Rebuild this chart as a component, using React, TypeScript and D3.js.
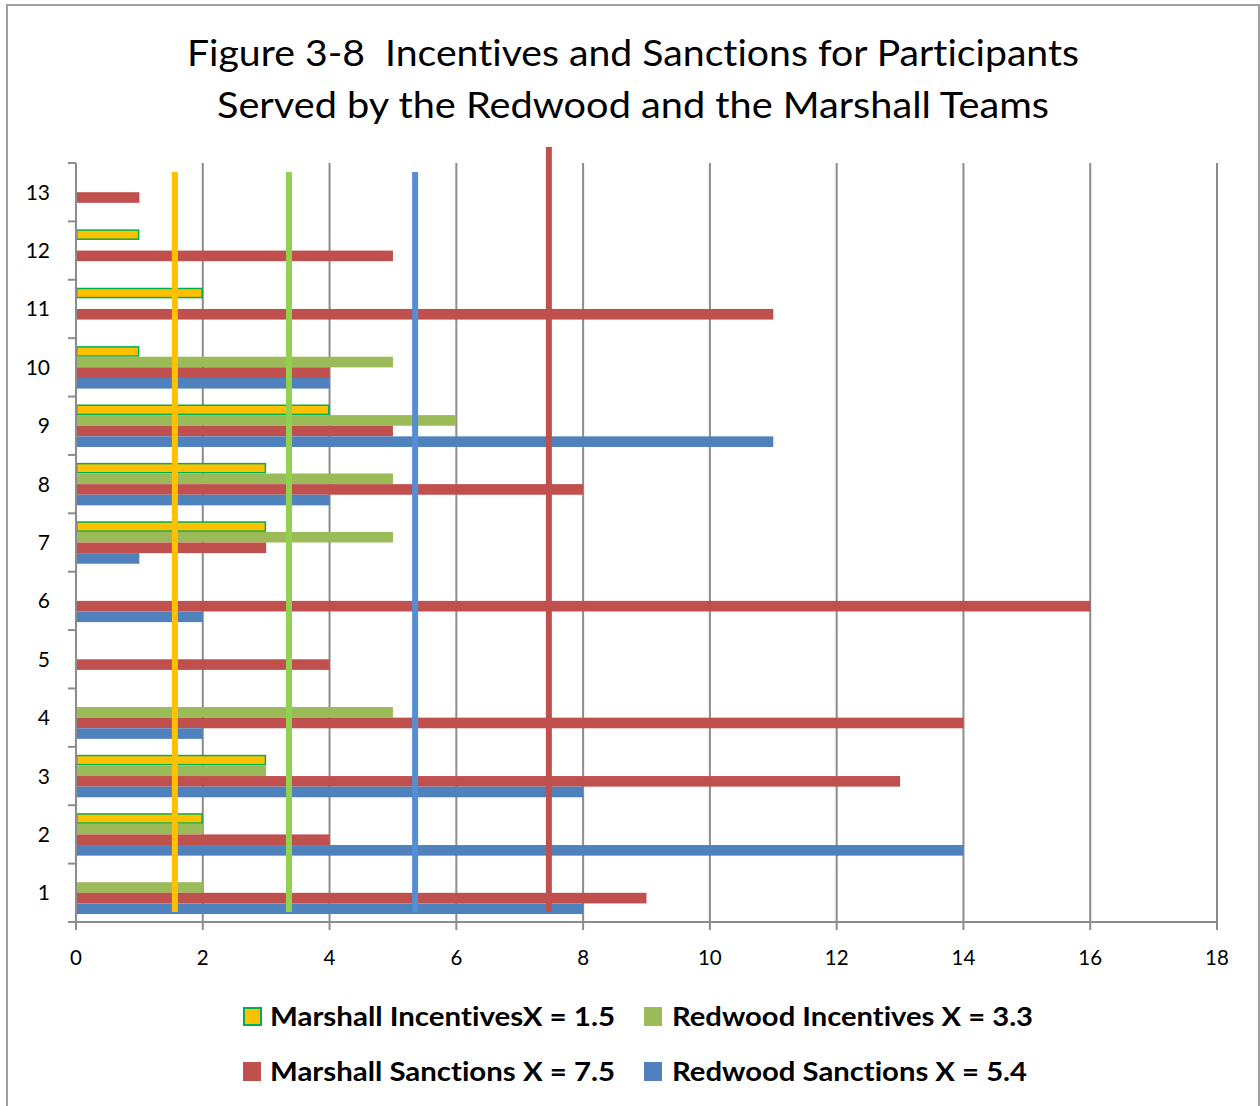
import React from "react";
import * as d3 from "d3";

const categories = ["1", "2", "3", "4", "5", "6", "7", "8", "9", "10", "11", "12", "13"];
const seriesNames = ["Marshall Incentives", "Redwood Incentives", "Marshall Sanctions", "Redwood Sanctions"];
const marshallIncentives = [0, 2, 3, 0, 0, 0, 3, 3, 4, 1, 2, 1, 0];
const redwoodIncentives = [2, 2, 3, 5, 0, 0, 5, 5, 6, 5, 0, 0, 0];
const marshallSanctions = [9, 4, 13, 14, 4, 16, 3, 8, 5, 4, 11, 5, 1];
const redwoodSanctions = [8, 14, 8, 2, 0, 2, 1, 4, 11, 4, 0, 0, 0];
const meanValues = [1.56, 3.36, 7.46, 5.35];
const legendLabels = [
  "Marshall IncentivesX = 1.5",
  "Redwood Incentives X = 3.3",
  "Marshall Sanctions X = 7.5",
  "Redwood Sanctions X = 5.4",
];
const xTicks = [0, 2, 4, 6, 8, 10, 12, 14, 16, 18];
const titleLines = [
  "Figure 3-8  Incentives and Sanctions for Participants",
  "Served by the Redwood and the Marshall Teams",
];

const seriesValues = [marshallIncentives, redwoodIncentives, marshallSanctions, redwoodSanctions];
const fills = ["#FFC000", "#9BBB59", "#C0504D", "#4F81BD"];
const strokes = ["#00B050", "none", "none", "none"];
const meanColors = ["#FFC000", "#92D050", "#C0504D", "#558ED5"];

const FONT = "Lato, 'Open Sans', sans-serif";

export default function App() {
  const left = 76, right = 1217, top = 163, bottom = 922;
  const x = d3.scaleLinear().domain([0, 18]).range([left, right]);
  const y = d3.scaleBand<string>().domain(categories).range([bottom, top]).padding(0);
  const inner = d3
    .scaleBand<string>()
    .domain(seriesNames)
    .range([0, y.bandwidth()])
    .paddingInner(0)
    .paddingOuter(0.75);
  const grid = "#8C8C8C";
  const boundaries = d3.range(categories.length + 1).map((i) => bottom - i * y.step());
  const meanTops = [top + 9, top + 9, top - 16, top + 9];
  const meanBottom = bottom - 10;

  const legendPos = [
    { sx: 243, tx: 270, base: 1026, w: 345 },
    { sx: 644, tx: 672, base: 1026, w: 361 },
    { sx: 243, tx: 270, base: 1081, w: 345 },
    { sx: 644, tx: 672, base: 1081, w: 355 },
  ];
  const legendSeries = [0, 1, 2, 3];

  return (
    <svg
      width={1260}
      height={1106}
      style={{ position: "absolute", left: 0, top: 0, background: "#fff", fontVariantLigatures: "none" }}
      fontFamily={FONT}
    >
      <rect x={7} y={5} width={1252} height={1110} fill="#fff" stroke="#A0A0A0" strokeWidth={2} />
      {/* title */}
      <text x={633} y={66} textAnchor="middle" fontSize={37.5} fill="#000" textLength={892} lengthAdjust="spacingAndGlyphs" style={{ whiteSpace: "pre" }}>
        {titleLines[0]}
      </text>
      <text x={633} y={118} textAnchor="middle" fontSize={37.5} fill="#000" textLength={832} lengthAdjust="spacingAndGlyphs" style={{ whiteSpace: "pre" }}>
        {titleLines[1]}
      </text>
      {/* gridlines */}
      {xTicks.slice(1).map((t) => (
        <line key={"g" + t} x1={x(t)} x2={x(t)} y1={top} y2={bottom} stroke={grid} strokeWidth={2} />
      ))}
      {/* x ticks */}
      {xTicks.map((t) => (
        <line key={"xt" + t} x1={x(t)} x2={x(t)} y1={bottom} y2={bottom + 8} stroke={grid} strokeWidth={2} />
      ))}
      {/* y ticks */}
      {boundaries.map((b, i) => (
        <line key={"yt" + i} x1={left - 8} x2={left} y1={b} y2={b} stroke={grid} strokeWidth={2} />
      ))}
      {/* bars */}
      {seriesValues.map((vals, si) =>
        vals.map((v, ci) => {
          if (!v) return null;
          const yy = (y(categories[ci]) as number) + (inner(seriesNames[si]) as number);
          const h = inner.bandwidth();
          const hasStroke = strokes[si] !== "none";
          return (
            <rect
              key={si + "-" + ci}
              x={x(0) + (hasStroke ? 0.75 : 0)}
              y={yy + (hasStroke ? 0.75 : 0)}
              width={x(v) - x(0) - (hasStroke ? 1.5 : 0)}
              height={h - (hasStroke ? 1.5 : 0)}
              fill={fills[si]}
              stroke={strokes[si]}
              strokeWidth={hasStroke ? 1.5 : 0}
            />
          );
        })
      )}
      {/* axes */}
      <line x1={left} x2={left} y1={top} y2={bottom} stroke={grid} strokeWidth={2} />
      <line x1={left - 8} x2={right} y1={bottom} y2={bottom} stroke={grid} strokeWidth={2} />
      {/* mean lines */}
      {meanValues.map((m, i) => (
        <line key={"m" + i} x1={x(m)} x2={x(m)} y1={meanTops[i]} y2={meanBottom} stroke={meanColors[i]} strokeWidth={6} />
      ))}
      {/* y labels */}
      {categories.map((c) => (
        <text key={"yl" + c} x={50} y={(y(c) as number) + y.bandwidth() / 2 + 7.5} textAnchor="end" fontSize={21} fill="#000">
          {c}
        </text>
      ))}
      {/* x labels */}
      {xTicks.map((t) => (
        <text key={"xl" + t} x={x(t)} y={965} textAnchor="middle" fontSize={20.5} fill="#000">
          {t}
        </text>
      ))}
      {/* legend */}
      {legendSeries.map((si, i) => {
        const p = legendPos[i];
        const hasStroke = strokes[si] !== "none";
        return (
          <g key={"lg" + i}>
            <rect
              x={p.sx + (hasStroke ? 1 : 0)}
              y={p.base - 19 + (hasStroke ? 1 : 0)}
              width={hasStroke ? 17 : 18}
              height={hasStroke ? 17 : 19}
              fill={fills[si]}
              stroke={strokes[si]}
              strokeWidth={hasStroke ? 2 : 0}
            />
            <text x={p.tx} y={p.base} fontSize={26} fontWeight="bold" fill="#000" textLength={p.w} lengthAdjust="spacingAndGlyphs">
              {legendLabels[i]}
            </text>
          </g>
        );
      })}
    </svg>
  );
}
